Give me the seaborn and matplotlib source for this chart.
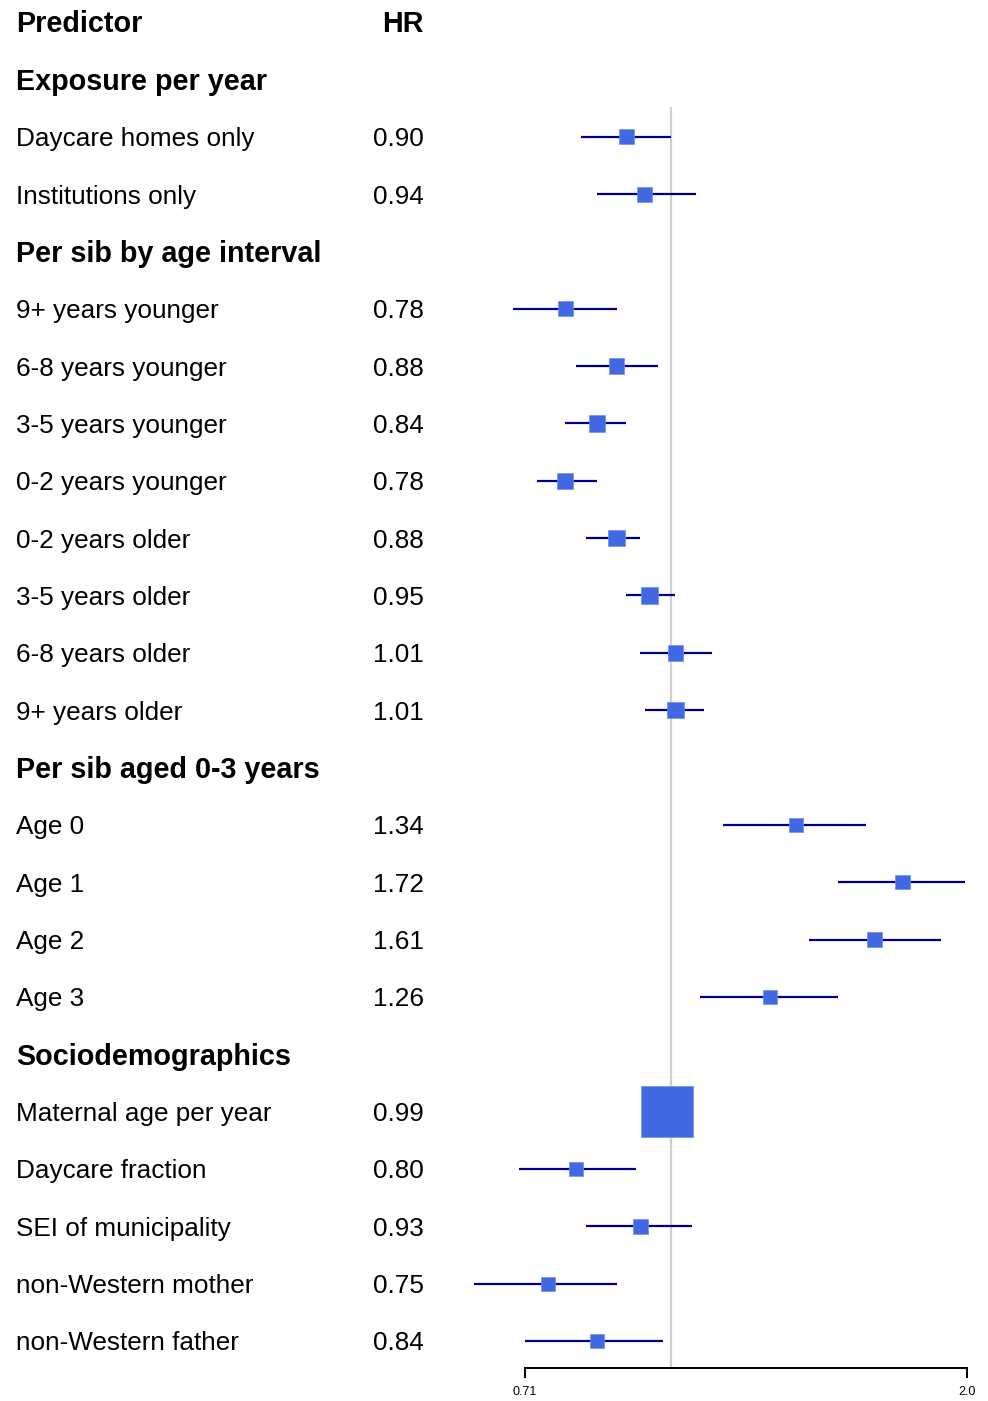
import numpy as np
import pandas as pd
import matplotlib
matplotlib.use("Agg")
import matplotlib.pyplot as plt
import matplotlib.transforms as mtransforms
import seaborn as sns

# sections and predictors, in display order
sections = ["Exposure per year", "Per sib by age interval",
            "Per sib aged 0-3 years", "Sociodemographics"]
labels = [
    ["Daycare homes only", "Institutions only"],
    ["9+ years younger", "6-8 years younger", "3-5 years younger", "0-2 years younger",
     "0-2 years older", "3-5 years older", "6-8 years older", "9+ years older"],
    ["Age 0", "Age 1", "Age 2", "Age 3"],
    ["Maternal age per year", "Daycare fraction", "SEI of municipality",
     "non-Western mother", "non-Western father"],
]
hr = [0.90, 0.94,
      0.78, 0.88, 0.84, 0.78, 0.88, 0.95, 1.01, 1.01,
      1.34, 1.72, 1.61, 1.26,
      0.99, 0.80, 0.93, 0.75, 0.84]
lower = [0.81, 0.84,
         0.69, 0.80, 0.78, 0.73, 0.82, 0.90, 0.93, 0.94,
         1.13, 1.48, 1.38, 1.07,
         0.9899, 0.70, 0.82, 0.63, 0.71]
upper = [1.00, 1.06,
         0.88, 0.97, 0.90, 0.84, 0.93, 1.01, 1.10, 1.08,
         1.58, 1.99, 1.88, 1.48,
         0.9901, 0.92, 1.05, 0.88, 0.98]
axis_ticks = [0.71, 2.0]

# build rows: row 0 is the header, then a section row before each group
rows = []
r = 1
for sec, labs in zip(sections, labels):
    rows.append(dict(row=r, label=sec, kind="section"))
    r += 1
    for lab in labs:
        rows.append(dict(row=r, label=lab, kind="item"))
        r += 1
tab = pd.DataFrame(rows)
df = tab[tab.kind == "item"].copy()
df["hr"] = hr
df["lower"] = lower
df["upper"] = upper

# box size from precision (like R forestplot), capped
w = np.log(df["upper"]) - np.log(df["lower"])
box_px = np.clip(14 * (w.max() / w) ** 0.175, None, 55)
df["s"] = (box_px * 0.72) ** 2

sns.set_style("white")
plt.rcParams["font.family"] = ["Liberation Sans", "DejaVu Sans"]
plt.rcParams["text.color"] = "black"
plt.rcParams["xtick.color"] = "black"

W, H = 988, 1401
fig = plt.figure(figsize=(W / 100, H / 100), dpi=100)
ax = fig.add_axes([470 / W, 33 / H, 515 / W, 1368 / H])

# x mapping: 0.71 at px 525, 2.0 at px 967 (log scale)
k = (967 - 525) / np.log(2.0 / 0.71)
ax.set_xscale("log")
ax.set_xlim(0.71 * np.exp((470 - 525) / k), 0.71 * np.exp((985 - 525) / k))
row_h = (1341 - 22) / 23
ax.set_ylim((1368 - 22) / row_h, -22 / row_h)

ax.vlines(1.0, (107 - 22) / row_h, (1368 - 22) / row_h, color="#d0d0d0", lw=1.6, zorder=1)
ax.hlines(df["row"], df["lower"], df["upper"], color="#00008B", lw=1.6, zorder=2)
sns.scatterplot(data=df, x="hr", y="row", marker="s", s=df["s"].values,
                color="#4169E1", edgecolor="#6f8ff0", linewidth=0.5, zorder=3, ax=ax,
                legend=False)

for sp in ["top", "right", "left"]:
    ax.spines[sp].set_visible(False)
ax.spines["bottom"].set_bounds(axis_ticks[0], axis_ticks[-1])
ax.spines["bottom"].set_linewidth(1.4)
ax.spines["bottom"].set_color("black")
ax.set_xticks(axis_ticks)
ax.set_xticks([], minor=True)
ax.set_xticklabels(["0.71", "2.0"], fontsize=9)
ax.tick_params(axis="x", direction="out", length=7, width=1.4, pad=6, bottom=True)
ax.set_yticks([])
ax.set_xlabel("")
ax.set_ylabel("")

# text columns, nudged slightly down
tr = mtransforms.blended_transform_factory(fig.transFigure, ax.transData)
tr = tr + mtransforms.ScaledTranslation(0, -2.5 / 100, fig.dpi_scale_trans)
x_lab, x_hr = 16 / W, 424 / W
fs, fsb = 18.8, 20.7
ax.text(x_lab, 0, "Predictor", transform=tr, ha="left", va="center",
        fontsize=fsb, fontweight="bold", clip_on=False)
ax.text(x_hr, 0, "HR", transform=tr, ha="right", va="center",
        fontsize=fsb, fontweight="bold", clip_on=False)
for _, rw in tab[tab.kind == "section"].iterrows():
    ax.text(x_lab, rw["row"], rw["label"], transform=tr, ha="left", va="center",
            fontsize=fsb, fontweight="bold", clip_on=False)
for _, rw in df.iterrows():
    ax.text(x_lab, rw["row"], rw["label"], transform=tr, ha="left", va="center",
            fontsize=fs, clip_on=False)
    ax.text(x_hr, rw["row"], f"{rw['hr']:.2f}", transform=tr, ha="right", va="center",
            fontsize=fs, clip_on=False)

fig.savefig("out.png", dpi=100)
